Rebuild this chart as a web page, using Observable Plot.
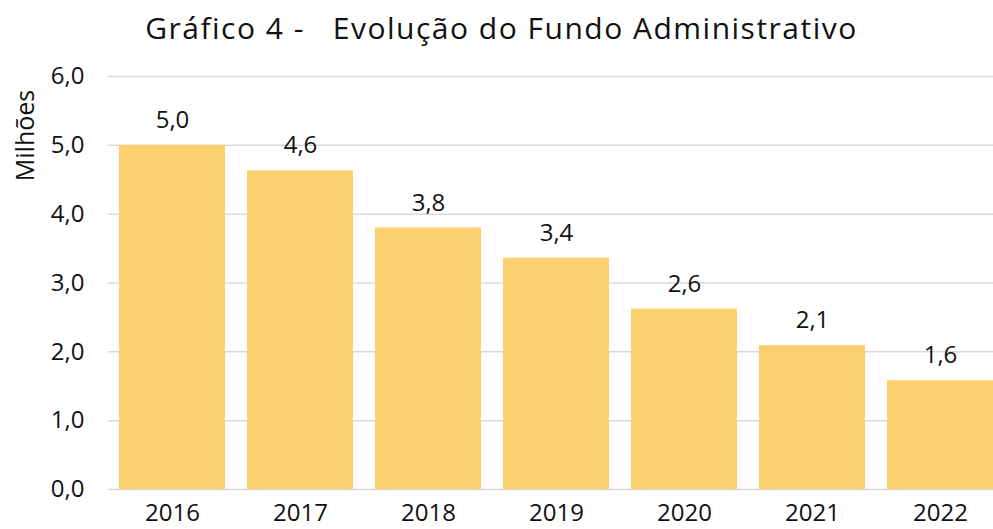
<!DOCTYPE html>
<html><head><meta charset="utf-8">
<script src="https://cdn.jsdelivr.net/npm/d3@7"></script>
<script src="https://cdn.jsdelivr.net/npm/@observablehq/plot@0.6"></script>
<style>
body{margin:0;background:#fff;font-family:"Open Sans","Noto Sans",sans-serif;width:993px;height:529px;overflow:hidden}
#title{height:56px;line-height:56px;text-align:center;font-size:30px;letter-spacing:1.5px;color:#111;padding-left:10px;white-space:pre}
svg text{font-family:"Open Sans","Noto Sans",sans-serif;}
</style></head><body>
<div id="title">Gráfico 4 -   Evolução do Fundo Administrativo</div>
<div id="chart"></div>
<script>
const years = ["2016","2017","2018","2019","2020","2021","2022"];
const values = [5.0, 4.63, 3.8, 3.36, 2.62, 2.09, 1.58];
const yTicks = [0,1,2,3,4,5,6];
const data = years.map((y,i)=>({year:y, value:values[i]}));
const fmt = v => v.toFixed(1).replace(".", ",");
const chart = Plot.plot({
  width: 993, height: 473,
  marginLeft: 108, marginRight: 0, marginTop: 20, marginBottom: 40,
  style: {fontFamily: "'Open Sans', 'Noto Sans', sans-serif", fontSize: "24px", color: "#111", background: "#fff", overflow: "hidden"},
  x: {domain: years, range: [108, 1004], paddingInner: 0.17, paddingOuter: 0.085, label: null, tickSize: 0, tickPadding: 14},
  y: {domain: [0,6], ticks: yTicks, tickFormat: fmt, label: null, tickSize: 0, tickPadding: 24},
  marks: [
    Plot.ruleY(yTicks, {stroke: "#d9d9d9", strokeWidth: 1.5}),
    Plot.barY(data, {x: "year", y: "value", fill: "#FCD06F"}),
    Plot.text(data, {x: "year", y: "value", text: d => fmt(d.value), dy: -25, fontSize: 24, fill: "#111"}),
    Plot.text(["Milhões"], {frameAnchor: "top-left", rotate: -90, dx: -92, dy: 59, fontSize: 25, fill: "#111", textAnchor: "middle"})
  ]
});
document.getElementById("chart").appendChild(chart);
</script></body></html>
